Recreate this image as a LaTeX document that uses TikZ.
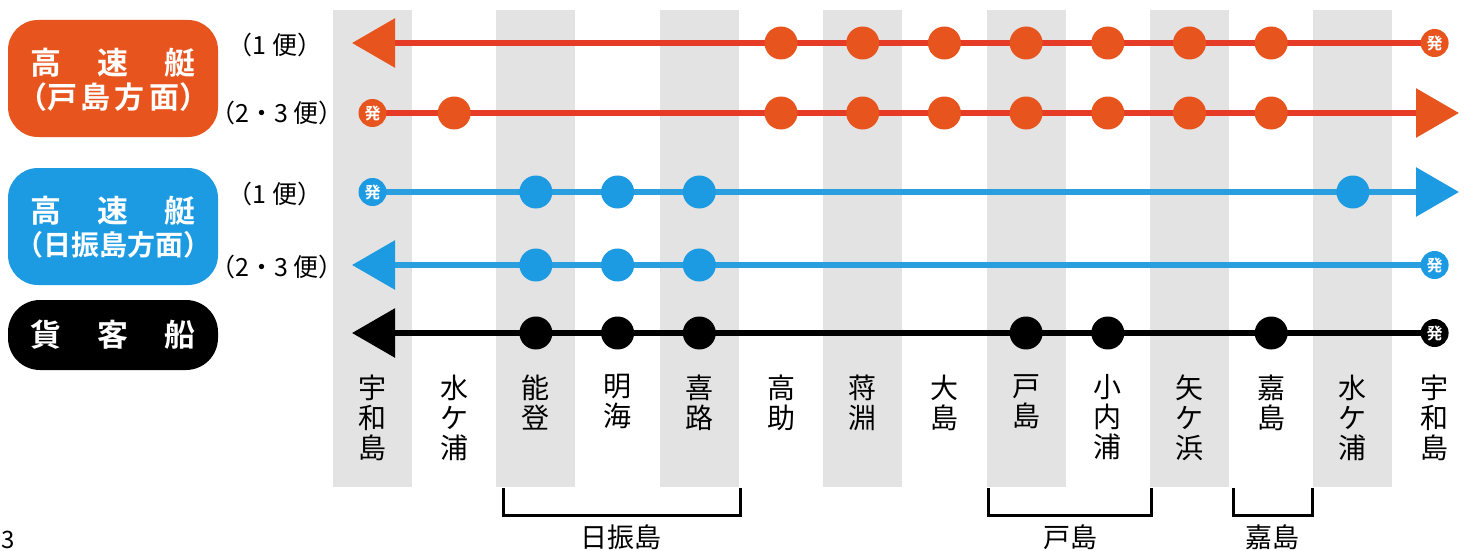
\documentclass[tikz,border=0pt]{standalone}
\usepackage{fontspec}
\setmainfont{Noto Sans CJK JP}[BoldFont={Noto Sans CJK JP Bold}]
\usetikzlibrary{arrows.meta}
\definecolor{bandgray}{HTML}{E3E3E3}
\definecolor{oline}{HTML}{E63B26}
\definecolor{odot}{HTML}{E8541E}
\definecolor{obox}{HTML}{E8541E}
\definecolor{bline}{HTML}{2A9FE0}
\definecolor{bdot}{HTML}{1C9AE2}
\begin{document}
\begin{tikzpicture}[x=1pt,y=-1pt,
  routeline/.style={line width=6pt},
  stopdot/.style={circle,minimum size=33pt,inner sep=0pt},
  hatsu/.style={circle,minimum size=28pt,inner sep=0pt,text=white,font=\fontsize{16}{16}\selectfont\bfseries},
  legendbox/.style={rounded corners=30pt,minimum width=210pt,inner sep=0pt},
  legendtext/.style={text=white,inner sep=0pt,font=\fontsize{31}{31}\selectfont\bfseries},
  trip/.style={font=\fontsize{25}{25}\selectfont},
  station/.style={anchor=north,align=center,font=\fontsize{28}{30}\selectfont},
  bracketline/.style={line width=3pt},
  islandlabel/.style={font=\fontsize{27}{27}\selectfont}
]
\useasboundingbox (0,0) rectangle (1466,551);
\fill[white] (0,0) rectangle (1466,551);
% gray bands
\foreach \i in {0,2,...,12}
  \fill[bandgray] ({372.5+81.7*\i-39.5},10) rectangle ++(79,477);
% coordinates
\foreach \r/\y in {1/43,2/113,3/192,4/265,5/333}
  \foreach \i in {0,...,13}
    \coordinate (p\r-\i) at ({372.5+81.7*\i},\y);
\coordinate (L1) at (352,43);
\coordinate (R2) at (1459,113);
\coordinate (R3) at (1459,192);
\coordinate (L4) at (352,265);
\coordinate (L5) at (352,333);
% lines
\draw[routeline,oline,-{Triangle[length=43pt,width=48pt,color=obox]}] (p1-13) -- (L1);
\draw[routeline,oline,-{Triangle[length=43pt,width=48pt,color=obox]}] (p2-0) -- (R2);
\draw[routeline,bline,-{Triangle[length=43pt,width=48pt,color=bdot]}] (p3-0) -- (R3);
\draw[routeline,bline,-{Triangle[length=43pt,width=48pt,color=bdot]}] (p4-13) -- (L4);
\draw[routeline,black,-{Triangle[length=43pt,width=48pt]}] (p5-13) -- (L5);
% stops
\foreach \i in {5,...,11} \node[stopdot,fill=odot] (d1-\i) at (p1-\i) {};
\foreach \i in {1,5,6,7,8,9,10,11} \node[stopdot,fill=odot] (d2-\i) at (p2-\i) {};
\foreach \i in {2,3,4,12} \node[stopdot,fill=bdot] (d3-\i) at (p3-\i) {};
\foreach \i in {2,3,4} \node[stopdot,fill=bdot] (d4-\i) at (p4-\i) {};
\foreach \i in {2,3,4,8,9,11} \node[stopdot,fill=black] (d5-\i) at (p5-\i) {};
% departures
\node[hatsu,fill=odot] (h1) at (p1-13) {発};
\node[hatsu,fill=odot] (h2) at (p2-0) {発};
\node[hatsu,fill=bdot] (h3) at (p3-0) {発};
\node[hatsu,fill=bdot] (h4) at (p4-13) {発};
\node[hatsu,fill=black] (h5) at (p5-13) {発};
% legend boxes
\node[legendbox,fill=obox,minimum height=117pt] (lb1) at (113,78.5) {};
\node[legendtext] (lb1a) at (113,63) {高\hspace{36pt}速\hspace{36pt}艇};
\node[legendtext,font=\fontsize{30}{30}\selectfont\bfseries] (lb1b) at (113,97) {（戸\hspace{4pt}島\hspace{4pt}方\hspace{4pt}面）};
\node[legendbox,fill=bdot,minimum height=117pt] (lb2) at (113,226.5) {};
\node[legendtext] (lb2a) at (113,211) {高\hspace{36pt}速\hspace{36pt}艇};
\node[legendtext,font=\fontsize{28}{28}\selectfont\bfseries] (lb2b) at (113,245) {（日振島方面）};
\node[legendbox,fill=black,minimum height=70pt,rounded corners=32pt] (lb3) at (113,335) {};
\node[legendtext] (lb3a) at (113,335) {貨\hspace{36pt}客\hspace{36pt}船};
% trip labels
\node[trip] (t1) at (275,45) {（1 便）};
\node[trip] (t2) at (277,113) {（2・3 便）};
\node[trip] (t3) at (275,194) {（1 便）};
\node[trip] (t4) at (277,267) {（2・3 便）};
% stations
\foreach \i/\n in {0/宇\\和\\島,1/水\\ケ\\浦,2/能\\登,3/明\\海,4/喜\\路,5/高\\助,6/蒋\\淵,7/大\\島,8/戸\\島,9/小\\内\\浦,10/矢\\ケ\\浜,11/嘉\\島,12/水\\ケ\\浦,13/宇\\和\\島}
  \node[station] (s\i) at ({372.5+81.7*\i},371) {\n};
% brackets
\coordinate (b1a) at (503,488); \coordinate (b1b) at (740,488);
\coordinate (b2a) at (988,488); \coordinate (b2b) at (1151,488);
\coordinate (b3a) at (1233,488); \coordinate (b3b) at (1312,488);
\draw[bracketline] (b1a) -- ++(0,27) -| (b1b);
\draw[bracketline] (b2a) -- ++(0,27) -| (b2b);
\draw[bracketline] (b3a) -- ++(0,27) -| (b3b);
\node[islandlabel] (i1) at (621,537) {日振島};
\node[islandlabel] (i2) at (1070,537) {戸島};
\node[islandlabel] (i3) at (1272,537) {嘉島};
\node[font=\fontsize{24}{24}\selectfont,anchor=base west,inner sep=0pt] (pg) at (1,548) {3};
\end{tikzpicture}
\end{document}
